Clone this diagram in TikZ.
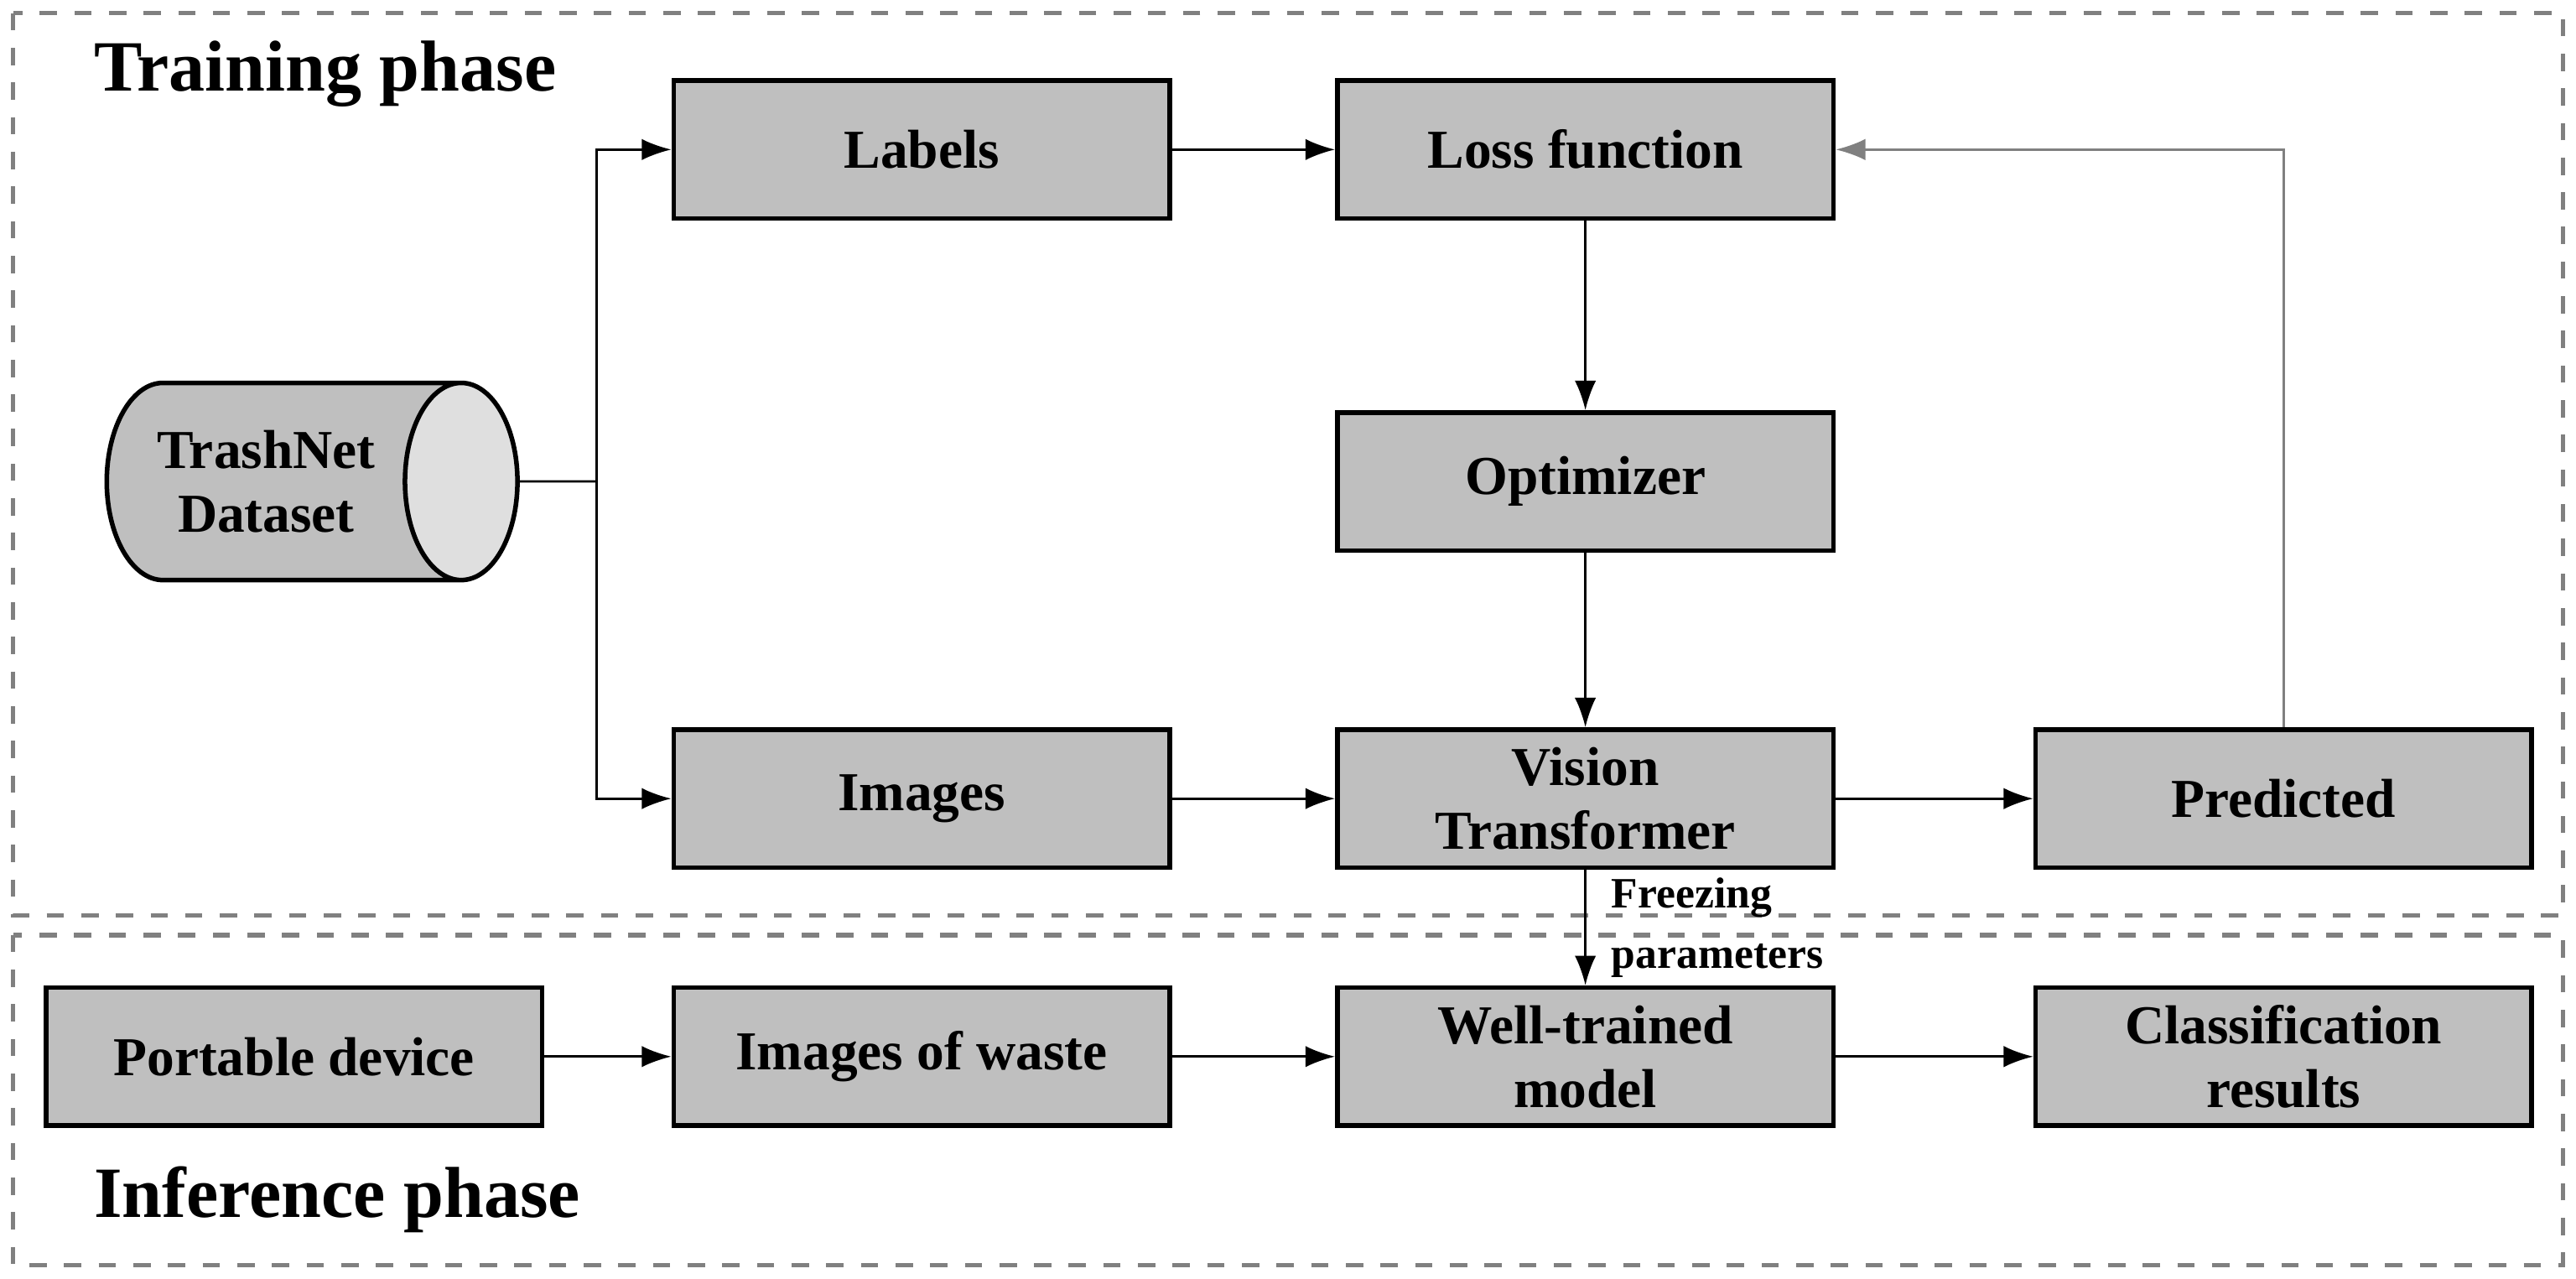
\documentclass[tikz,border=0pt]{standalone}
\usepackage{fontspec}
\setmainfont{Liberation Serif}
\usetikzlibrary{shapes.geometric,arrows.meta}
\begin{document}
\begin{tikzpicture}[yscale=-1,
    box/.style={draw,thick,fill=gray!50,minimum width=3.02cm,minimum height=0.84cm,
      align=center,font=\fontsize{9.5}{11}\selectfont\bfseries,inner sep=1pt},
    arr/.style={-{Latex[length=1.8mm,width=1.3mm]}},
    phase/.style={draw=gray,dashed,thick}]
    \useasboundingbox (0,0) rectangle (15.68,7.78);
    \draw[phase] (0.08,0.08) rectangle (15.60,5.57);
    \draw[phase] (0.08,5.69) rectangle (15.60,7.70);
    \node[anchor=west,font=\fontsize{12.5}{15}\selectfont\bfseries] (train) at (0.45,0.45) {Training phase};
    \node[anchor=west,font=\fontsize{12.5}{15}\selectfont\bfseries] (infer) at (0.45,7.30) {Inference phase};
    % training
    \node[box] (labels) at (5.61,0.91) {Labels};
    \node[box] (loss) at (9.65,0.91) {Loss function};
    \node[box] (opt) at (9.65,2.93) {Optimizer};
    \node[box] (images) at (5.61,4.86) {Images};
    \node[box] (vit) at (9.65,4.86) {Vision\\Transformer};
    \node[box] (pred) at (13.90,4.86) {Predicted};
    \node[draw,thick,cylinder,shape aspect=0.8,cylinder uses custom fill,
      cylinder body fill=gray!50,cylinder end fill=gray!25,
      minimum width=1.2cm,minimum height=2.5cm,align=center,
      font=\fontsize{9.5}{11}\selectfont\bfseries] (data) at (1.62,2.93) {TrashNet\\Dataset};
    \coordinate (split) at (3.63,2.93);
    \draw (data.east) -- (split);
    \draw[arr] (split) |- (labels.west);
    \draw[arr] (split) |- (images.west);
    \draw[arr] (labels) -- (loss);
    \draw[arr] (loss) -- (opt);
    \draw[arr] (opt) -- (vit);
    \draw[arr] (images) -- (vit);
    \draw[arr] (vit) -- (pred);
    \draw[arr,draw=gray] (pred.north) |- (loss.east);
    % inference
    \node[box] (device) at (1.79,6.43) {Portable device};
    \node[box] (waste) at (5.61,6.43) {Images of waste};
    \node[box] (model) at (9.65,6.43) {Well-trained\\model};
    \node[box] (result) at (13.90,6.43) {Classification\\results};
    \draw[arr] (device) -- (waste);
    \draw[arr] (waste) -- (model);
    \draw[arr] (model) -- (result);
    \draw[arr] (vit) -- (model) node[midway,right,align=left,xshift=1pt,
      font=\fontsize{7.5}{10.5}\selectfont\bfseries] {Freezing\\parameters};
\end{tikzpicture}
\end{document}
